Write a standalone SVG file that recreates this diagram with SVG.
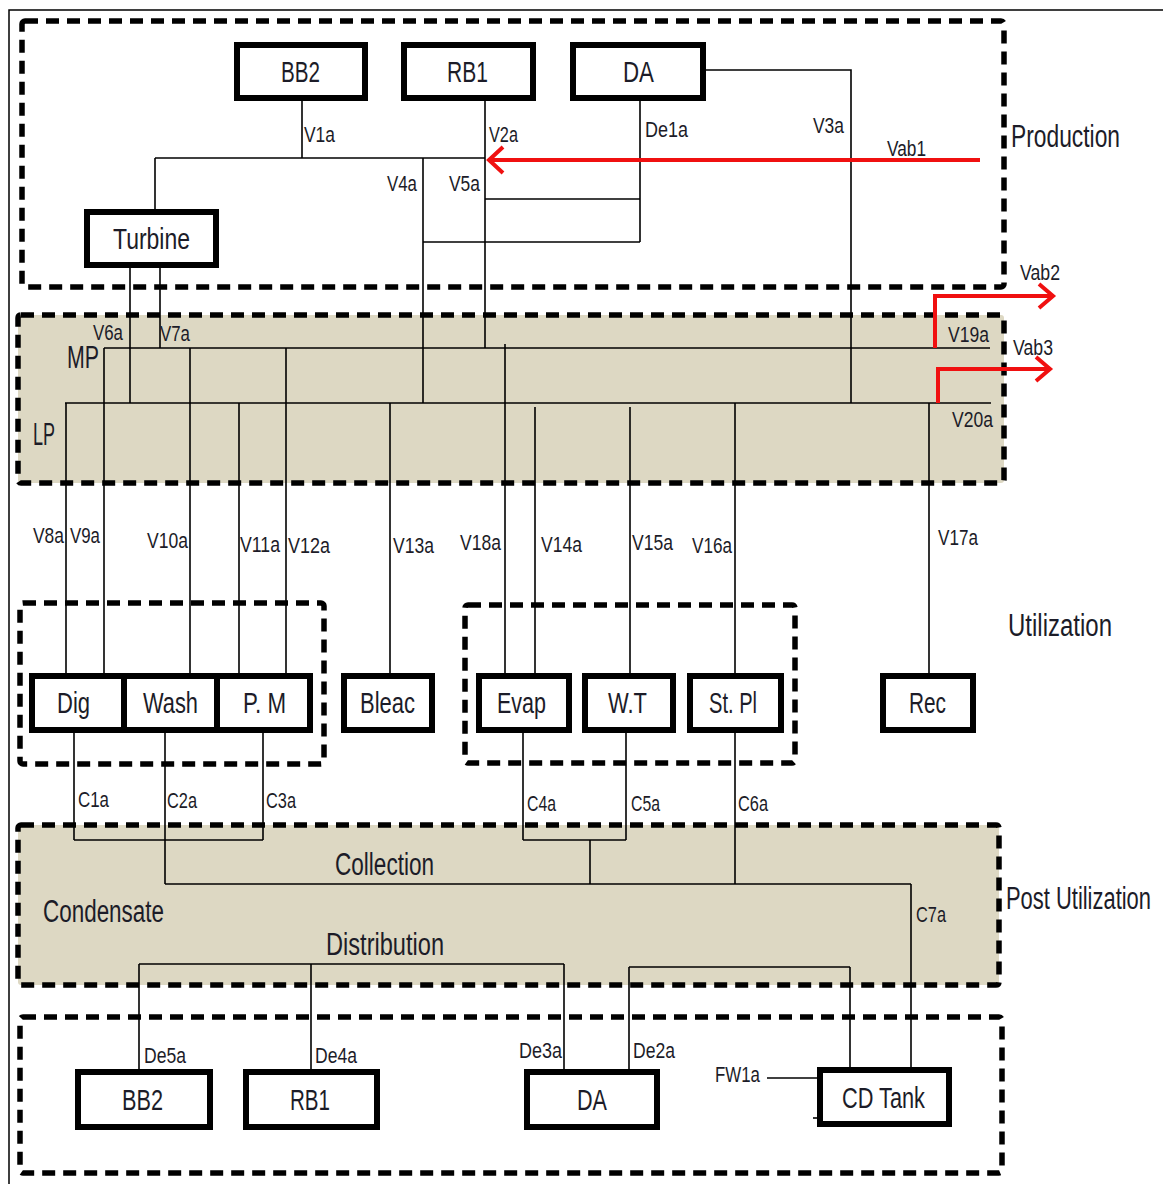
<svg xmlns="http://www.w3.org/2000/svg" width="1163" height="1184" viewBox="0 0 1163 1184">
<style>
.frame{fill:none;stroke:#000;stroke-width:1.5}
.zone{fill:none;stroke:#000;stroke-width:5.5;stroke-dasharray:13 8}
.zone.fill{fill:#ddd8c3}
.node rect{fill:#fff;stroke:#000;stroke-width:6}
.node text{font-family:"Liberation Sans",Arial,sans-serif;font-size:30px;fill:#1c1c28;text-anchor:middle}
.conn line,.conn polyline{fill:none;stroke:#000;stroke-width:1.6}
.conn .red{fill:none;stroke:#f01010;stroke-width:4;stroke-linejoin:miter}
.lbl{font-family:"Liberation Sans",Arial,sans-serif;font-size:22px;fill:#1c1c28}
.sec{font-family:"Liberation Sans",Arial,sans-serif;font-size:31px;fill:#1c1c28}
</style>
<rect width="1163" height="1184" fill="#fff"/>
<path class="frame" d="M9,1184 V10 H1163"/>

<g id="zones">
<rect id="zone-production" class="zone" x="22" y="21" width="982" height="266" rx="3"/>
<rect id="zone-header" class="zone fill" x="18" y="315" width="986" height="168" rx="3"/>
<rect id="zone-util-left" class="zone" x="20" y="603" width="304" height="161" rx="3"/>
<rect id="zone-util-right" class="zone" x="465" y="605" width="330" height="158" rx="3"/>
<rect id="zone-post" class="zone fill" x="18" y="825" width="981" height="160" rx="3"/>
<rect id="zone-bottom" class="zone" x="20" y="1017" width="982" height="156" rx="3"/>
</g>

<g id="connectors" class="conn">
<!-- production -->
<line x1="302" y1="101" x2="302" y2="158"/>
<line x1="155" y1="158" x2="485" y2="158"/>
<line x1="155" y1="158" x2="155" y2="209"/>
<line x1="485" y1="101" x2="485" y2="348"/>
<line x1="423" y1="158" x2="423" y2="403"/>
<line x1="485" y1="199" x2="640" y2="199"/>
<line x1="423" y1="242" x2="640" y2="242"/>
<line x1="640" y1="101" x2="640" y2="242"/>
<polyline points="706,70 851,70 851,403"/>
<line x1="130" y1="268" x2="130" y2="403"/>
<line x1="160" y1="268" x2="160" y2="348"/>
<!-- headers -->
<line x1="104" y1="348" x2="990" y2="348"/>
<line x1="65" y1="403" x2="991" y2="403"/>
<!-- to utilization -->
<line x1="66" y1="403" x2="66" y2="673"/>
<line x1="104" y1="348" x2="104" y2="673"/>
<line x1="190" y1="348" x2="190" y2="673"/>
<line x1="239" y1="403" x2="239" y2="673"/>
<line x1="286" y1="348" x2="286" y2="673"/>
<line x1="390" y1="403" x2="390" y2="673"/>
<line x1="505" y1="344" x2="505" y2="673"/>
<line x1="535" y1="407" x2="535" y2="673"/>
<line x1="630" y1="407" x2="630" y2="673"/>
<line x1="735" y1="403" x2="735" y2="673"/>
<line x1="929" y1="403" x2="929" y2="673"/>
<!-- condensate collection -->
<line x1="74" y1="733" x2="74" y2="840"/>
<line x1="165" y1="733" x2="165" y2="884"/>
<line x1="263" y1="733" x2="263" y2="840"/>
<line x1="74" y1="840" x2="263" y2="840"/>
<line x1="523" y1="733" x2="523" y2="840"/>
<line x1="626" y1="733" x2="626" y2="840"/>
<line x1="523" y1="840" x2="626" y2="840"/>
<line x1="590" y1="840" x2="590" y2="884"/>
<line x1="735" y1="733" x2="735" y2="884"/>
<line x1="165" y1="884" x2="911" y2="884"/>
<line x1="911" y1="884" x2="911" y2="1067"/>
<!-- distribution -->
<line x1="139" y1="964" x2="564" y2="964"/>
<line x1="139" y1="964" x2="139" y2="1069"/>
<line x1="311" y1="964" x2="311" y2="1069"/>
<line x1="564" y1="964" x2="564" y2="1069"/>
<line x1="629" y1="967" x2="850" y2="967"/>
<line x1="629" y1="967" x2="629" y2="1069"/>
<line x1="850" y1="967" x2="850" y2="1067"/>
<line x1="767" y1="1078" x2="817" y2="1078"/>
<line x1="813" y1="1118" x2="818" y2="1118"/>
<!-- red flows -->
<line class="red" x1="980" y1="160" x2="489" y2="160"/>
<polyline class="red" points="503,147 489,160 503,173"/>
<polyline class="red" points="935,348 935,296 1053,296"/>
<polyline class="red" points="1039,284 1053,296 1039,308"/>
<polyline class="red" points="938,403 938,369 1050,369"/>
<polyline class="red" points="1036,357 1050,369 1036,381"/>
</g>

<g id="node-bb2-top" class="node"><rect x="237" y="45" width="128" height="53"/><text x="300.5" y="82" textLength="39" lengthAdjust="spacingAndGlyphs">BB2</text></g>
<g id="node-rb1-top" class="node"><rect x="404" y="45" width="129" height="53"/><text x="467.5" y="82" textLength="41" lengthAdjust="spacingAndGlyphs">RB1</text></g>
<g id="node-da-top" class="node"><rect x="573" y="45" width="130" height="53"/><text x="638.5" y="82" textLength="31" lengthAdjust="spacingAndGlyphs">DA</text></g>
<g id="node-turbine" class="node"><rect x="87" y="212" width="129" height="53"/><text x="151.5" y="249" textLength="77" lengthAdjust="spacingAndGlyphs">Turbine</text></g>

<g id="node-dig" class="node"><rect x="32" y="676" width="92" height="54"/><text x="73.5" y="713" textLength="33" lengthAdjust="spacingAndGlyphs">Dig</text></g>
<g id="node-wash" class="node"><rect x="124" y="676" width="93" height="54"/><text x="170.5" y="713" textLength="55" lengthAdjust="spacingAndGlyphs">Wash</text></g>
<g id="node-pm" class="node"><rect x="217" y="676" width="93" height="54"/><text x="264.5" y="713" textLength="43" lengthAdjust="spacingAndGlyphs">P. M</text></g>
<g id="node-bleac" class="node"><rect x="344" y="676" width="88" height="54"/><text x="387.5" y="713" textLength="55" lengthAdjust="spacingAndGlyphs">Bleac</text></g>
<g id="node-evap" class="node"><rect x="479" y="676" width="90" height="54"/><text x="521.5" y="713" textLength="49" lengthAdjust="spacingAndGlyphs">Evap</text></g>
<g id="node-wt" class="node"><rect x="585" y="676" width="88" height="54"/><text x="627.5" y="713" textLength="39" lengthAdjust="spacingAndGlyphs">W.T</text></g>
<g id="node-stpl" class="node"><rect x="690" y="676" width="91" height="54"/><text x="733" y="713" textLength="48" lengthAdjust="spacingAndGlyphs">St. Pl</text></g>
<g id="node-rec" class="node"><rect x="883" y="676" width="90" height="54"/><text x="927.5" y="713" textLength="37" lengthAdjust="spacingAndGlyphs">Rec</text></g>

<g id="node-bb2-bottom" class="node"><rect x="78" y="1072" width="132" height="55"/><text x="142.5" y="1110" textLength="41" lengthAdjust="spacingAndGlyphs">BB2</text></g>
<g id="node-rb1-bottom" class="node"><rect x="246" y="1072" width="131" height="55"/><text x="310" y="1110" textLength="40" lengthAdjust="spacingAndGlyphs">RB1</text></g>
<g id="node-da-bottom" class="node"><rect x="527" y="1072" width="130" height="55"/><text x="592" y="1110" textLength="30" lengthAdjust="spacingAndGlyphs">DA</text></g>
<g id="node-cdtank" class="node"><rect x="820" y="1070" width="129" height="54"/><text x="883.5" y="1108" textLength="83" lengthAdjust="spacingAndGlyphs">CD Tank</text></g>

<g id="labels" class="lbl">
<text x="304" y="142" textLength="31" lengthAdjust="spacingAndGlyphs">V1a</text>
<text x="489" y="142" textLength="29" lengthAdjust="spacingAndGlyphs">V2a</text>
<text x="387" y="191" textLength="30" lengthAdjust="spacingAndGlyphs">V4a</text>
<text x="449" y="191" textLength="31" lengthAdjust="spacingAndGlyphs">V5a</text>
<text x="645" y="137" textLength="43" lengthAdjust="spacingAndGlyphs">De1a</text>
<text x="813" y="133" textLength="31" lengthAdjust="spacingAndGlyphs">V3a</text>
<text x="887" y="156" textLength="39" lengthAdjust="spacingAndGlyphs">Vab1</text>
<text x="1020" y="280" textLength="40" lengthAdjust="spacingAndGlyphs">Vab2</text>
<text x="93" y="340" textLength="30" lengthAdjust="spacingAndGlyphs">V6a</text>
<text x="160" y="341" textLength="30" lengthAdjust="spacingAndGlyphs">V7a</text>
<text x="948" y="342" textLength="41" lengthAdjust="spacingAndGlyphs">V19a</text>
<text x="1013" y="355" textLength="40" lengthAdjust="spacingAndGlyphs">Vab3</text>
<text x="952" y="427" textLength="41" lengthAdjust="spacingAndGlyphs">V20a</text>
<text x="33" y="543" textLength="31" lengthAdjust="spacingAndGlyphs">V8a</text>
<text x="70" y="543" textLength="30" lengthAdjust="spacingAndGlyphs">V9a</text>
<text x="147" y="548" textLength="41" lengthAdjust="spacingAndGlyphs">V10a</text>
<text x="240" y="552" textLength="40" lengthAdjust="spacingAndGlyphs">V11a</text>
<text x="288" y="553" textLength="42" lengthAdjust="spacingAndGlyphs">V12a</text>
<text x="393" y="553" textLength="41" lengthAdjust="spacingAndGlyphs">V13a</text>
<text x="460" y="550" textLength="41" lengthAdjust="spacingAndGlyphs">V18a</text>
<text x="541" y="552" textLength="41" lengthAdjust="spacingAndGlyphs">V14a</text>
<text x="632" y="550" textLength="41" lengthAdjust="spacingAndGlyphs">V15a</text>
<text x="692" y="553" textLength="40" lengthAdjust="spacingAndGlyphs">V16a</text>
<text x="938" y="545" textLength="40" lengthAdjust="spacingAndGlyphs">V17a</text>
<text x="78" y="807" textLength="31" lengthAdjust="spacingAndGlyphs">C1a</text>
<text x="167" y="808" textLength="30" lengthAdjust="spacingAndGlyphs">C2a</text>
<text x="266" y="808" textLength="30" lengthAdjust="spacingAndGlyphs">C3a</text>
<text x="527" y="811" textLength="29" lengthAdjust="spacingAndGlyphs">C4a</text>
<text x="631" y="811" textLength="29" lengthAdjust="spacingAndGlyphs">C5a</text>
<text x="738" y="811" textLength="30" lengthAdjust="spacingAndGlyphs">C6a</text>
<text x="916" y="922" textLength="30" lengthAdjust="spacingAndGlyphs">C7a</text>
<text x="144" y="1063" textLength="42" lengthAdjust="spacingAndGlyphs">De5a</text>
<text x="315" y="1063" textLength="42" lengthAdjust="spacingAndGlyphs">De4a</text>
<text x="519" y="1058" textLength="43" lengthAdjust="spacingAndGlyphs">De3a</text>
<text x="633" y="1058" textLength="42" lengthAdjust="spacingAndGlyphs">De2a</text>
<text x="715" y="1082" textLength="45" lengthAdjust="spacingAndGlyphs">FW1a</text>
</g>

<g id="section-labels" class="sec">
<text x="1011" y="147" textLength="109" lengthAdjust="spacingAndGlyphs">Production</text>
<text x="67" y="368" textLength="32" lengthAdjust="spacingAndGlyphs">MP</text>
<text x="33" y="445" textLength="22" lengthAdjust="spacingAndGlyphs">LP</text>
<text x="1008" y="636" textLength="104" lengthAdjust="spacingAndGlyphs">Utilization</text>
<text x="1006" y="909" textLength="145" lengthAdjust="spacingAndGlyphs">Post Utilization</text>
<text x="335" y="875" textLength="99" lengthAdjust="spacingAndGlyphs">Collection</text>
<text x="43" y="922" textLength="121" lengthAdjust="spacingAndGlyphs">Condensate</text>
<text x="326" y="955" textLength="118" lengthAdjust="spacingAndGlyphs">Distribution</text>
</g>
</svg>
